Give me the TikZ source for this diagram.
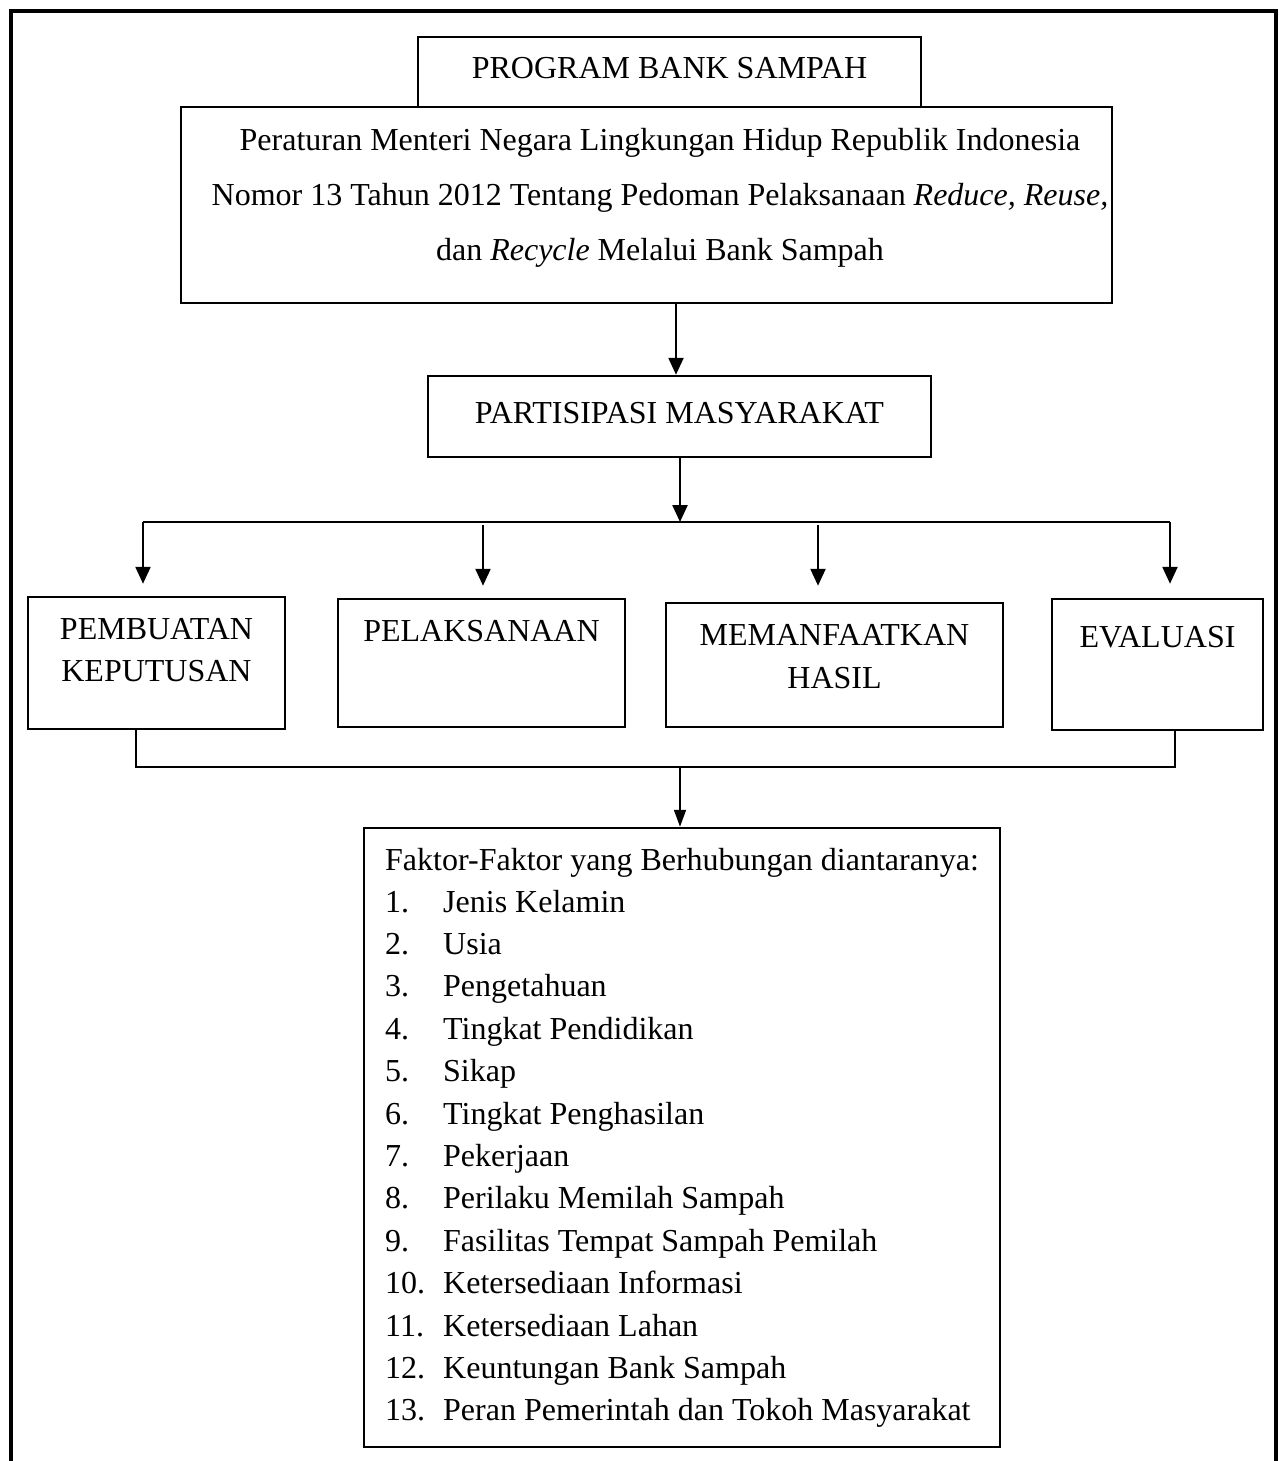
\documentclass[tikz,border=0pt]{standalone}
\usepackage{fontspec}
\setmainfont{Liberation Serif}
\usetikzlibrary{arrows.meta}
\begin{document}
\begin{tikzpicture}[x=1pt,y=-1pt,
  box/.style={draw,line width=2.5pt,inner sep=0pt},
  txt/.style={anchor=base,inner sep=0pt,font=\fontsize{32}{42}\selectfont},
  ltxt/.style={anchor=base west,inner sep=0pt,font=\fontsize{32}{42}\selectfont},
  arr/.style={line width=2.4pt,-{Triangle[width=15pt,length=17pt]}},
  arrthin/.style={line width=1.8pt,-{Triangle[width=12pt,length=17pt]}},
  thinline/.style={line width=1.4pt}]
\useasboundingbox (0,0) rectangle (1279,1461);
% outer frame
\draw[line width=3.5pt] (11,1461) -- (11,11) -- (1276,11) -- (1276,1461);

% boxes
\node[box,minimum width=503pt,minimum height=70pt] (top) at (669.5,72) {};
\node[txt] (toptxt) at (669.5,79) {PROGRAM BANK SAMPAH};

\node[box,minimum width=931pt,minimum height=196pt] (reg) at (646.5,205) {};
\node[txt] (reg1) at (660,150) {Peraturan Menteri Negara Lingkungan Hidup Republik Indonesia};
\node[txt] (reg2) at (660,205) {Nomor 13 Tahun 2012 Tentang Pedoman Pelaksanaan \textit{Reduce, Reuse,}};
\node[txt] (reg3) at (660,260) {dan \textit{Recycle} Melalui Bank Sampah};

\node[box,minimum width=503pt,minimum height=81pt] (part) at (679.5,416.5) {};
\node[txt] (parttxt) at (679.5,423) {PARTISIPASI MASYARAKAT};

\node[box,minimum width=257pt,minimum height=132pt] (b1) at (156.5,663) {};
\node[txt] (b1a) at (156.5,639) {PEMBUATAN};
\node[txt] (b1b) at (156.5,681) {KEPUTUSAN};

\node[box,minimum width=287pt,minimum height=128pt] (b2) at (481.5,663) {};
\node[txt] (b2a) at (481.5,641) {PELAKSANAAN};

\node[box,minimum width=337pt,minimum height=124pt] (b3) at (834.5,665) {};
\node[txt] (b3a) at (834.5,645) {MEMANFAATKAN};
\node[txt] (b3b) at (834.5,688) {HASIL};

\node[box,minimum width=211pt,minimum height=131pt] (b4) at (1157.5,664.5) {};
\node[txt] (b4a) at (1157.5,647) {EVALUASI};

\node[box,minimum width=636pt,minimum height=619pt] (fac) at (682,1137.5) {};
\node[ltxt] (fach) at (385,870) {Faktor-Faktor yang Berhubungan diantaranya:};
\foreach \i/\t in {1/Jenis Kelamin,2/Usia,3/Pengetahuan,4/Tingkat Pendidikan,5/Sikap,6/Tingkat Penghasilan,7/Pekerjaan,8/Perilaku Memilah Sampah,9/Fasilitas Tempat Sampah Pemilah,10/Ketersediaan Informasi,11/Ketersediaan Lahan,12/Keuntungan Bank Sampah,13/Peran Pemerintah dan Tokoh Masyarakat}{
  \pgfmathsetmacro{\yy}{912+42.4*(\i-1)}
  \node[ltxt] (n\i) at (385,\yy) {\i.};
  \node[ltxt] (t\i) at (443,\yy) {\t};
}

% connectors
\coordinate (a1) at (676,303);
\draw[arr] (a1) -- (a1 |- part.north);

\coordinate (j) at (680,522);
\coordinate (hl) at (143,522);
\coordinate (hr) at (1170,522);
\draw[arr] (j |- part.south) -- (j);
\draw[thinline] (hl) -- (hr);
\draw[arr,shorten >=12pt] (hl) -- (hl |- b1.north);
\coordinate (h2) at (483,525);
\draw[arr,shorten >=12pt] (h2) -- (h2 |- b2.north);
\coordinate (h3) at (818,525);
\draw[arr,shorten >=16pt] (h3) -- (h3 |- b3.north);
\draw[arr,shorten >=14pt] (hr) -- (hr |- b4.north);

\coordinate (cl) at (136,767);
\coordinate (cr) at (1175,767);
\coordinate (cm) at (680,767);
\draw[thinline] (cl |- b1.south) -- (cl) -- (cr) -- (cr |- b4.south);
\draw[arrthin] (cm) -- (cm |- fac.north);
\end{tikzpicture}
\end{document}
